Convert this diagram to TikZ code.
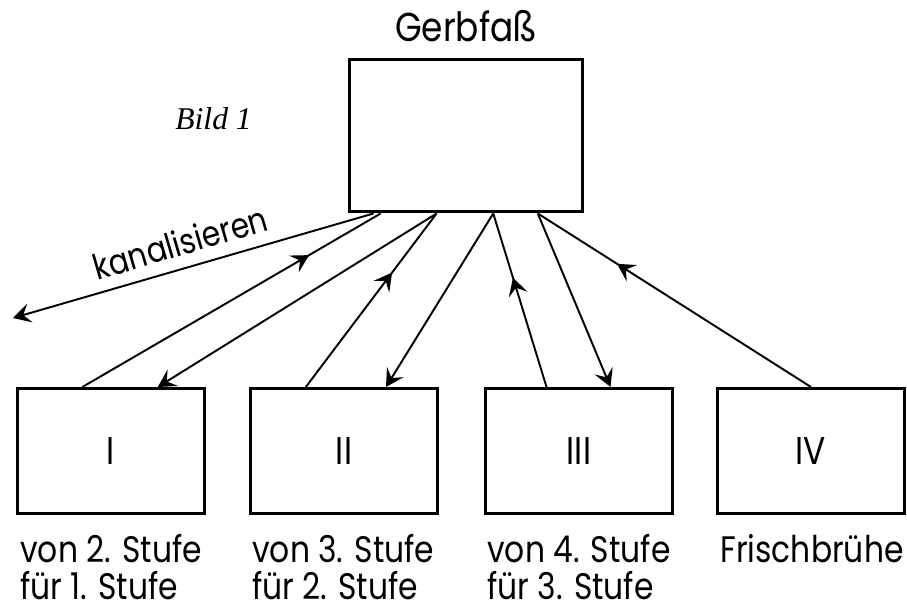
\documentclass[tikz,border=0pt]{standalone}
\usepackage{fontspec}
\setmainfont{Poppins}[FakeStretch=0.85]
\newfontfamily\serifit{Liberation Serif}
\usetikzlibrary{arrows.meta,decorations.markings,calc}
\tikzset{
  tip/.tip={Stealth[length=10pt,width=11pt,inset=4pt]},
  topbox/.style={draw,line width=1.7pt,minimum width=4.68cm,minimum height=3.06cm,inner sep=0},
  smallbox/.style={draw,line width=1.7pt,minimum width=3.76cm,minimum height=2.5cm,inner sep=0,font=\fontsize{22}{26}\selectfont},
  lab/.style={anchor=base west,inner sep=0,font=\fontsize{21}{25}\selectfont},
  conn/.style={line width=1.1pt},
  midtip/.style={postaction={decorate},decoration={markings,mark=at position #1 with {\arrow{tip}}}},
}
\begin{document}
\begin{tikzpicture}[x=0.02cm,y=-0.02cm]
\useasboundingbox (0,0) rectangle (907,611);
% boxes
\node[topbox] (top) at (466,135.5) {};
\node[anchor=base,inner sep=0,font=\fontsize{23}{27}\selectfont] (title) at (466,42) {Gerbfaß};
\node[anchor=base west,inner sep=0,font=\serifit\itshape\fontsize{18}{22}\selectfont] (bild) at (175,130) {Bild 1};
\node[smallbox] (b1) at (111,451) {I};
\node[smallbox] (b2) at (344,451) {II};
\node[smallbox] (b3) at (579,451) {III};
\node[smallbox] (b4) at (811,451) {IV};
% labels
\node[lab] (l1a) at (20,562) {von 2. Stufe};
\node[lab] (l1b) at (20,600) {für 1. Stufe};
\node[lab] (l2a) at (252,562) {von 3. Stufe};
\node[lab] (l2b) at (252,600) {für 2. Stufe};
\node[lab] (l3a) at (487,562) {von 4. Stufe};
\node[lab] (l3b) at (487,600) {für 3. Stufe};
\node[lab] (l4a) at (720,562) {Frischbrühe};
% attachment points
\coordinate (tA) at ($(top.south west)!0.11!(top.south east)$);
\coordinate (tB) at ($(top.south west)!0.14!(top.south east)$);
\coordinate (tC) at ($(top.south west)!0.376!(top.south east)$);
\coordinate (tD) at ($(top.south west)!0.615!(top.south east)$);
\coordinate (tE) at ($(top.south west)!0.803!(top.south east)$);
\coordinate (kend) at (13,318);
% connectors
\draw[conn,-tip] (tA) -- (kend);
\node[rotate=16.4,anchor=base,inner sep=0,font=\fontsize{20}{22}\selectfont] (kan) at (184,255) {kanalisieren};
\draw[conn,midtip=0.76] ($(b1.north west)!0.35!(b1.north east)$) -- (tB);
\draw[conn,-tip] (tC) -- ($(b1.north west)!0.745!(b1.north east)$);
\draw[conn,midtip=0.66] ($(b2.north west)!0.30!(b2.north east)$) -- (tC);
\draw[conn,-tip] (tD) -- ($(b2.north west)!0.72!(b2.north east)$);
\draw[conn,midtip=0.63] ($(b3.north west)!0.33!(b3.north east)$) -- (tD);
\draw[conn,-tip] (tE) -- ($(b3.north west)!0.665!(b3.north east)$);
\draw[conn,midtip=0.71] (b4.north) -- (tE);
\end{tikzpicture}
\end{document}
